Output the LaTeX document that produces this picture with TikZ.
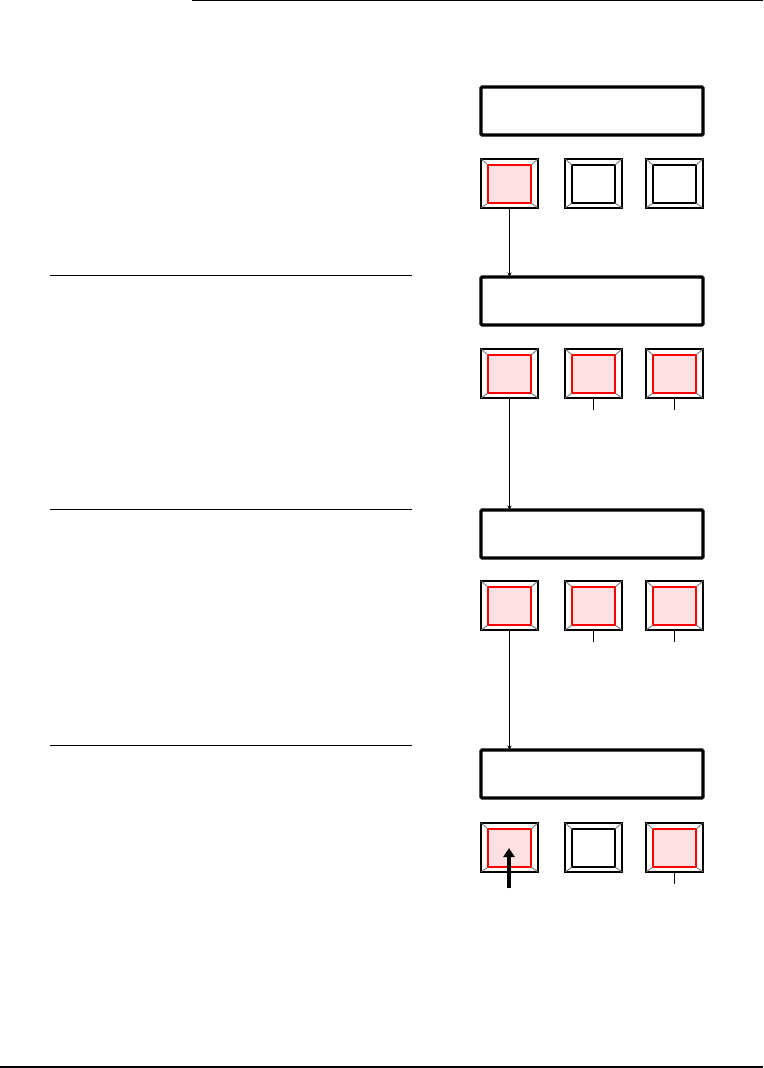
\documentclass[tikz,border=0pt]{standalone}
\usetikzlibrary{arrows.meta,calc}
\definecolor{pinkfill}{RGB}{253,224,226}
\definecolor{bevel}{RGB}{110,110,110}
\tikzset{
  x=1pt, y=-1pt,
  rule/.style={line width=1.3pt},
  display/.style={draw, line width=3.4pt, rounded corners=1.2pt, minimum width=222pt, minimum height=48pt, anchor=north west, inner sep=0pt, outer sep=0pt},
  btnout/.style={draw, line width=1.3pt, fill=white, minimum width=57pt, minimum height=49pt, anchor=north west, inner sep=0pt, outer sep=0pt},
  inon/.style={draw=red, fill=pinkfill, line width=1.3pt, minimum width=43pt, minimum height=38pt, anchor=north west, inner sep=0pt, outer sep=0pt},
  inoff/.style={draw=black, fill=white, line width=1.3pt, minimum width=43pt, minimum height=38pt, anchor=north west, inner sep=0pt, outer sep=0pt},
  bev/.style={draw=bevel, line width=0.8pt},
  link/.style={line width=0.9pt, -{Stealth[length=4.5pt,width=4pt]}},
  stub/.style={line width=0.9pt},
  push/.style={line width=4pt, -{Triangle[length=9pt,width=11pt]}}
}
\newcommand\mybutton[4]{%
  \node[btnout] (#1) at (#2,#3) {};
  \node[#4] (#1i) at (#2+7,#3+6) {};
  \draw[bev] (#1.north west) -- (#1i.north west);
  \draw[bev] (#1.north east) -- (#1i.north east);
  \draw[bev] (#1.south west) -- (#1i.south west);
  \draw[bev] (#1.south east) -- (#1i.south east);
}
\begin{document}
\begin{tikzpicture}
\useasboundingbox (0,0) rectangle (763,1068);
% page rules
\draw[rule] (192,0.8) -- (763,0.8);
\draw[rule] (0,1067) -- (763,1067);
% left separators
\draw[line width=1pt] (50,275) -- (412,275);
\draw[line width=1pt] (50,509) -- (412,509);
\draw[line width=1pt] (50,745) -- (412,745);
% panel 1
\node[display] (d1) at (481,87) {};
\mybutton{b11}{481}{159}{inon}
\mybutton{b12}{565}{159}{inoff}
\mybutton{b13}{646}{159}{inoff}
% panel 2
\node[display] (d2) at (481,277) {};
\mybutton{b21}{481}{349}{inon}
\mybutton{b22}{565}{349}{inon}
\mybutton{b23}{646}{349}{inon}
% panel 3
\node[display] (d3) at (481,510) {};
\mybutton{b31}{481}{581}{inon}
\mybutton{b32}{565}{581}{inon}
\mybutton{b33}{646}{581}{inon}
% panel 4
\node[display] (d4) at (481,750) {};
\mybutton{b41}{481}{823}{inon}
\mybutton{b42}{565}{823}{inoff}
\mybutton{b43}{646}{823}{inon}
% connectors
\draw[link] (b11.south) -- (b11.south |- d2.north);
\draw[link] (b21.south) -- (b21.south |- d3.north);
\draw[link] (b31.south) -- (b31.south |- d4.north);
% stubs
\coordinate (s22) at ($(b22.south)+(0,12)$);
\coordinate (s23) at ($(b23.south)+(0,12)$);
\coordinate (s32) at ($(b32.south)+(0,12)$);
\coordinate (s33) at ($(b33.south)+(0,12)$);
\coordinate (s43) at ($(b43.south)+(0,12)$);
\draw[stub] (b22.south) -- (s22);
\draw[stub] (b23.south) -- (s23);
\draw[stub] (b32.south) -- (s32);
\draw[stub] (b33.south) -- (s33);
\draw[stub] (b43.south) -- (s43);
% push arrow
\coordinate (p0) at (509,888);
\draw[push] (p0) -- (p0 |- b41i.center);
\end{tikzpicture}
\end{document}
